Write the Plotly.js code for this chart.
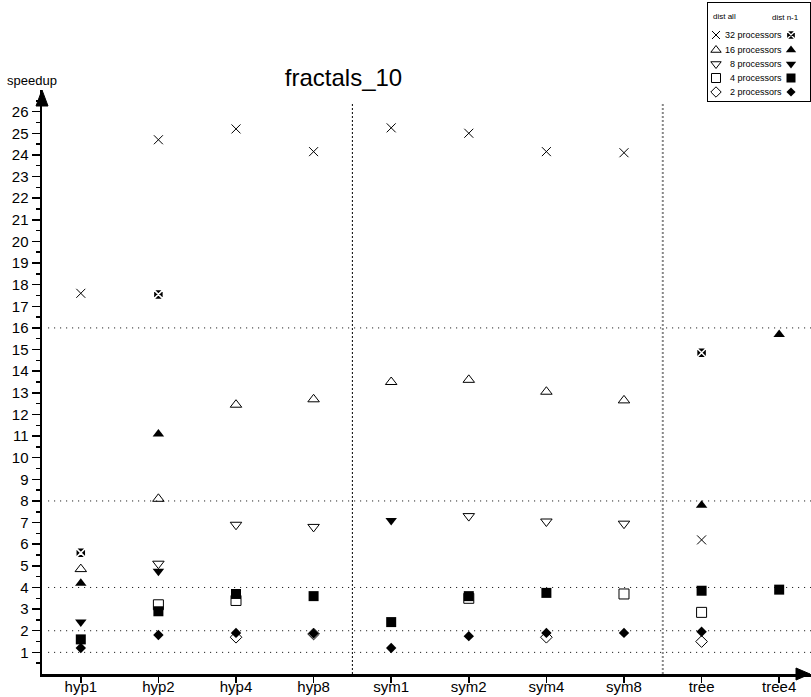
<!DOCTYPE html>
<html>
<head>
<meta charset="utf-8">
<script src="https://cdn.plot.ly/plotly-3.0.1.min.js"></script>
<style>html,body{margin:0;padding:0;background:#fff;}#chart{width:811px;height:697px;}</style>
</head>
<body>
<div id="chart"></div>
<script>
// ---- data ----
const categories = ['hyp1','hyp2','hyp4','hyp8','sym1','sym2','sym4','sym8','tree','tree4'];
const seriesNames = ['32 processors','16 processors','8 processors','4 processors','2 processors'];

// "dist all" (open symbols)
const distAll32 = [17.6, 24.7, 25.2, 24.15, 25.25, 25.0, 24.15, 24.1, 6.2, null];
const distAll16 = [4.85, 8.1, 12.45, 12.7, 13.5, 13.6, 13.05, 12.65, null, null];
const distAll8  = [null, 5.1, 6.9, 6.8, null, 7.3, 7.05, 6.95, null, null];
const distAll4  = [null, 3.2, 3.4, null, null, 3.5, null, 3.7, 2.85, null];
const distAll2  = [null, null, 1.7, 1.85, null, null, 1.7, null, 1.5, null];

// "dist n-1" (filled symbols)
const distN1_32 = [5.6, 17.55, null, null, null, null, null, null, 14.85, null];
const distN1_16 = [4.2, 11.1, null, null, null, null, null, null, 7.8, 15.7];
const distN1_8  = [2.4, 4.75, null, null, 7.1, null, null, null, null, null];
const distN1_4  = [1.6, 2.9, 3.7, 3.6, 2.4, 3.6, 3.75, null, 3.85, 3.9];
const distN1_2  = [1.2, 1.8, 1.9, 1.87, 1.2, 1.75, 1.9, 1.9, 1.95, null];

const yTickVals = [1,2,3,4,5,6,7,8,9,10,11,12,13,14,15,16,17,18,19,20,21,22,23,24,25,26];
const refLinesY = [1, 2, 4, 8, 16];
const groupSeparators = [3.5, 7.5];

// ---- styles ----
const FONT = 'Liberation Sans, Arial, Helvetica, sans-serif';
const openSyms = ['x-thin-open','triangle-up-open','triangle-down-open','square-open','diamond-open'];
const fillSyms = ['square-x','triangle-up','triangle-down','square','diamond'];
const openSizes = [9, 10, 10, 10, 9];
const fillSizes = [10, 10, 10, 10, 8];
const allSeries = [distAll32, distAll16, distAll8, distAll4, distAll2];
const n1Series = [distN1_32, distN1_16, distN1_8, distN1_4, distN1_2];

const traces = [];
allSeries.forEach((ys, i) => {
  traces.push({
    type: 'scatter', mode: 'markers', x: categories, y: ys, name: 'dist all ' + seriesNames[i],
    showlegend: false, cliponaxis: false,
    marker: {symbol: openSyms[i], size: openSizes[i], color: 'black', line: {color: 'black', width: 1}}
  });
});
n1Series.forEach((ys, i) => {
  traces.push({
    type: 'scatter', mode: 'markers', x: categories, y: ys, name: 'dist n-1 ' + seriesNames[i],
    showlegend: false, cliponaxis: false,
    marker: {symbol: fillSyms[i], size: fillSizes[i], color: 'black',
             line: {color: i === 0 ? 'white' : 'black', width: i === 0 ? 1.5 : 0}}
  });
});

// legend (own small axes in pixel units)
const legRowY = [35, 50, 64, 78, 92];
seriesNames.forEach((nm, i) => {
  traces.push({type: 'scatter', mode: 'markers', xaxis: 'x2', yaxis: 'y2', x: [716], y: [legRowY[i]],
    showlegend: false, hoverinfo: 'skip', cliponaxis: false,
    marker: {symbol: openSyms[i], size: openSizes[i] - 1, color: 'black', line: {color: 'black', width: 1}}});
  traces.push({type: 'scatter', mode: 'markers', xaxis: 'x2', yaxis: 'y2', x: [791], y: [legRowY[i]],
    showlegend: false, hoverinfo: 'skip', cliponaxis: false,
    marker: {symbol: fillSyms[i], size: fillSizes[i] - 1, color: 'black',
             line: {color: i === 0 ? 'white' : 'black', width: i === 0 ? 1.3 : 0}}});
});

const annotations = [
  {xref: 'paper', yref: 'paper', x: (5 - 42) / 769, y: (674 - 81) / 674, xanchor: 'left', yanchor: 'middle',
   text: 'speedup', showarrow: false, font: {family: FONT, size: 13, color: 'black'}},
  {xref: 'x2', yref: 'y2', x: 711, y: 17, xanchor: 'left', yanchor: 'middle', text: 'dist all',
   showarrow: false, font: {family: FONT, size: 8, color: 'black'}},
  {xref: 'x2', yref: 'y2', x: 801, y: 18, xanchor: 'right', yanchor: 'middle', text: 'dist n-1',
   showarrow: false, font: {family: FONT, size: 8, color: 'black'}}
];
seriesNames.forEach((nm, i) => {
  annotations.push({xref: 'x2', yref: 'y2', x: 784, y: legRowY[i], xanchor: 'right', yanchor: 'middle',
    text: nm, showarrow: false, font: {family: FONT, size: 9, color: 'black'}});
});

const shapes = [];
refLinesY.forEach(v => shapes.push({type: 'line', xref: 'paper', yref: 'y', x0: 0.008, x1: 1, y0: v, y1: v,
  line: {color: 'black', width: 1, dash: '1px,5px'}, layer: 'below'}));
shapes.push({type: 'line', xref: 'x', yref: 'y', x0: groupSeparators[0], x1: groupSeparators[0], y0: 0, y1: 26.4,
  line: {color: 'black', width: 1, dash: '2px,2px'}, layer: 'below'});
shapes.push({type: 'line', xref: 'x', yref: 'y', x0: groupSeparators[1], x1: groupSeparators[1], y0: 0, y1: 26.4,
  line: {color: '#888', width: 2, dash: '2px,2px'}, layer: 'below'});
// axis arrow heads
shapes.push({type: 'path', xref: 'paper', yref: 'paper', xsizemode: 'pixel', ysizemode: 'pixel',
  xanchor: 0, yanchor: (674 - 90) / 674, path: 'M -6,-16 L 0,0 L 6,-16 Z',
  fillcolor: 'black', line: {color: 'black', width: 1}});
shapes.push({type: 'path', xref: 'paper', yref: 'paper', xsizemode: 'pixel', ysizemode: 'pixel',
  xanchor: 1, yanchor: 0, path: 'M -15,6 L -1,0 L -15,-6 Z',
  fillcolor: 'black', line: {color: 'black', width: 1}});

const layout = {
  width: 811, height: 697,
  margin: {l: 42, r: 0, t: 0, b: 23, pad: 0},
  paper_bgcolor: 'white', plot_bgcolor: 'rgba(0,0,0,0)',
  showlegend: false,
  font: {family: FONT, color: 'black'},
  title: {text: 'fractals_10', x: 343.5 / 811, y: 1 - 78 / 697, xref: 'container', yref: 'container',
          xanchor: 'center', yanchor: 'middle', font: {family: FONT, size: 24, color: 'black'}},
  xaxis: {type: 'category', range: [-0.5, 9.41], domain: [0, 1], showgrid: false, zeroline: false,
          showline: true, linewidth: 2.5, linecolor: 'black',
          ticks: 'outside', ticklen: 6, tickwidth: 1.5, tickcolor: 'black', ticklabelstandoff: -9,
          tickfont: {family: FONT, size: 15, color: 'black'}, fixedrange: true},
  yaxis: {range: [0, 27], domain: [0, (674 - 90) / 674], showgrid: false, zeroline: false,
          showline: true, linewidth: 2.5, linecolor: 'black',
          tickmode: 'array', tickvals: yTickVals, ticktext: yTickVals.map(String),
          ticks: 'outside', ticklen: 8, tickwidth: 1.5, tickcolor: 'black',
          minor: {tick0: 0.5, dtick: 1, ticks: 'outside', ticklen: 4, tickwidth: 1.5, tickcolor: 'black', showgrid: false},
          tickfont: {family: FONT, size: 15, color: 'black'}, fixedrange: true},
  xaxis2: {domain: [(708 - 42) / 769, (810 - 42) / 769], range: [708, 810], anchor: 'y2',
           showgrid: false, zeroline: false, showticklabels: false, ticks: '',
           showline: true, mirror: true, linecolor: 'black', linewidth: 1, fixedrange: true},
  yaxis2: {domain: [(674 - 101) / 674, (674 - 3) / 674], range: [101, 3], anchor: 'x2',
           showgrid: false, zeroline: false, showticklabels: false, ticks: '',
           showline: true, mirror: true, linecolor: 'black', linewidth: 1, fixedrange: true},
  shapes: shapes,
  annotations: annotations
};

Plotly.newPlot('chart', traces, layout, {displayModeBar: false, staticPlot: true});
</script>
</body>
</html>
